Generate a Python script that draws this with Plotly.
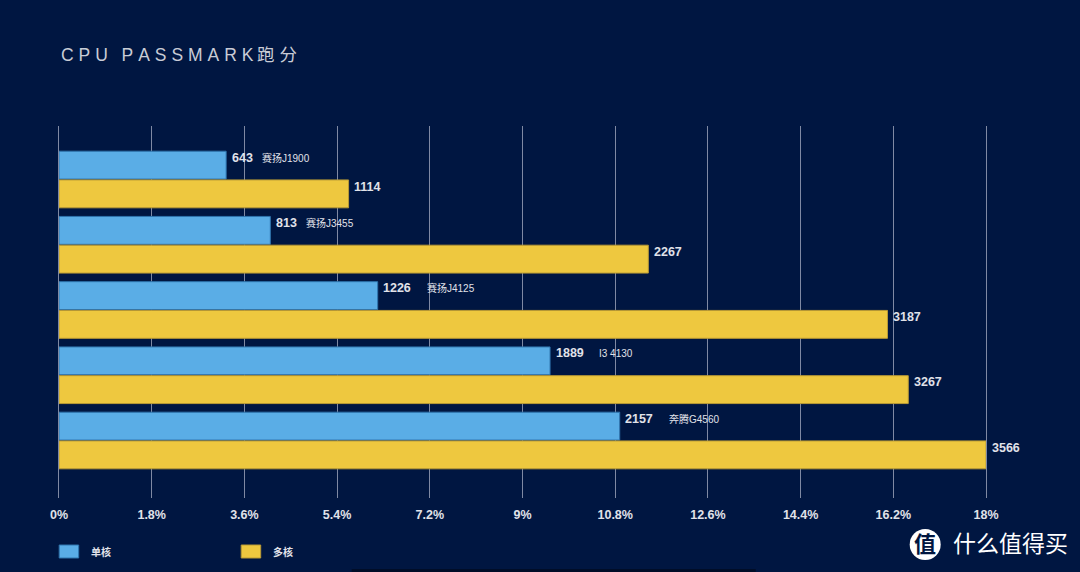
import plotly.graph_objects as go

categories = ["赛扬J1900", "赛扬J3455", "赛扬J4125", "I3 4130", "奔腾G4560"]
single_core = [643, 813, 1226, 1889, 2157]
multi_core = [1114, 2267, 3187, 3267, 3566]
tick_pct = [0, 1.8, 3.6, 5.4, 7.2, 9, 10.8, 12.6, 14.4, 16.2, 18]
axis_max = 3566
title_text = "\u2009\u200a".join("CPU") + "\u2002 " + "\u2009\u200a".join("PASSMARK") + "\u2009跑\u2009\u200a分"
series_names = ["单核", "多核"]

BG = "#001641"
BLUE = "#5aade6"
YELLOW = "#eec83f"
GRID = "#7f89a3"
LABEL = "#e0e2e9"
FONT = "Liberation Sans, Noto Sans CJK SC, sans-serif"
W, H = 1080, 572
L, R, T, B = 59.3, 986.3, 126, 498
PITCH = 65.25

fig = go.Figure()
fig.add_bar(
    name=series_names[0], y=categories, x=single_core, orientation="h",
    marker=dict(color=BLUE, line=dict(color="#2f74ad", width=1)),
)
fig.add_bar(
    name=series_names[1], y=categories, x=multi_core, orientation="h",
    marker=dict(color=YELLOW, line=dict(color="#b99a35", width=1)),
)

shapes = [
    dict(type="rect", xref="paper", yref="paper", x0=(59.5-L)/(R-L), x1=(79-L)/(R-L),
         y0=(B-558)/(B-T), y1=(B-545)/(B-T), fillcolor=BLUE, line=dict(color="#2f74ad", width=1)),
    dict(type="rect", xref="paper", yref="paper", x0=(241.5-L)/(R-L), x1=(261-L)/(R-L),
         y0=(B-558)/(B-T), y1=(B-545)/(B-T), fillcolor=YELLOW, line=dict(color="#b99a35", width=1)),
    dict(type="circle", xref="paper", yref="paper", x0=(910-L)/(R-L), x1=(941-L)/(R-L),
         y0=(B-560)/(B-T), y1=(B-529)/(B-T), fillcolor="white", line=dict(width=0)),
    dict(type="rect", xref="paper", yref="paper", x0=(352-L)/(R-L), x1=(756-L)/(R-L),
         y0=(B-572)/(B-T), y1=(B-569)/(B-T), fillcolor="#000d28", line=dict(width=0)),
]

def px_note(text, x, y, size, color=LABEL, anchor="left"):
    return dict(text=text, xref="paper", yref="paper", x=(x-L)/(R-L), y=(B-y)/(B-T),
                xanchor=anchor, yanchor="middle", showarrow=False,
                font=dict(size=size, color=color, family=FONT))

def data_note(text, x, y, xshift, yshift, size):
    return dict(text=text, xref="x", yref="y", x=x, y=y, xshift=xshift, yshift=yshift,
                xanchor="left", yanchor="middle", showarrow=False,
                font=dict(size=size, color=LABEL, family=FONT))

annotations = [
    px_note(title_text, 59, 55, 17.5, "#c9ccd6"),
    px_note(f"<b>{series_names[0]}</b>", 89, 552, 10),
    px_note(f"<b>{series_names[1]}</b>", 271, 552, 10),
    px_note("<b>值</b>", 925.5, 544, 22, BG, "center"),
    px_note("什么值得买", 951, 544, 23, "white"),
]
for cat, s, m in zip(categories, single_core, multi_core):
    annotations.append(data_note(f"<b>{s}</b>", s, cat, 3.5, 22, 12.5))
    annotations.append(data_note(f"<b>{m}</b>", m, cat, 3.5, -7, 12.5))
    annotations.append(data_note(cat, s, cat, 34 if s < 1000 else 47, 22, 10))

fig.update_layout(
    width=W, height=H, autosize=False,
    paper_bgcolor=BG, plot_bgcolor=BG,
    margin=dict(l=L, r=W-R, t=T, b=H-B, pad=0),
    barmode="group", bargap=7.75/PITCH, bargroupgap=0.03,
    showlegend=False,
    shapes=shapes, annotations=annotations,
    font=dict(family=FONT, color=LABEL),
    xaxis=dict(
        range=[0, axis_max],
        tickvals=[p / tick_pct[-1] * axis_max for p in tick_pct],
        ticktext=[f"<b>{p}%</b>" for p in tick_pct],
        tickfont=dict(size=12.5, color=LABEL, family=FONT),
        showgrid=True, gridcolor=GRID, gridwidth=1,
        zeroline=False, showline=False,
        ticks="outside", ticklen=5, tickcolor="rgba(0,0,0,0)",
    ),
    yaxis=dict(
        autorange=False, range=[(B - 179.5) / PITCH, -(179.5 - T) / PITCH],
        showticklabels=False, showgrid=False, zeroline=False, ticks="",
        showline=True, mirror=True, linecolor=GRID, linewidth=1, layer="below traces",
        type="category", categoryorder="array", categoryarray=categories,
    ),
)
fig.write_html(
    "out.html",
    config=dict(displayModeBar=False),
    post_script="document.body.style.margin='0';document.body.style.background='#001641';",
)
